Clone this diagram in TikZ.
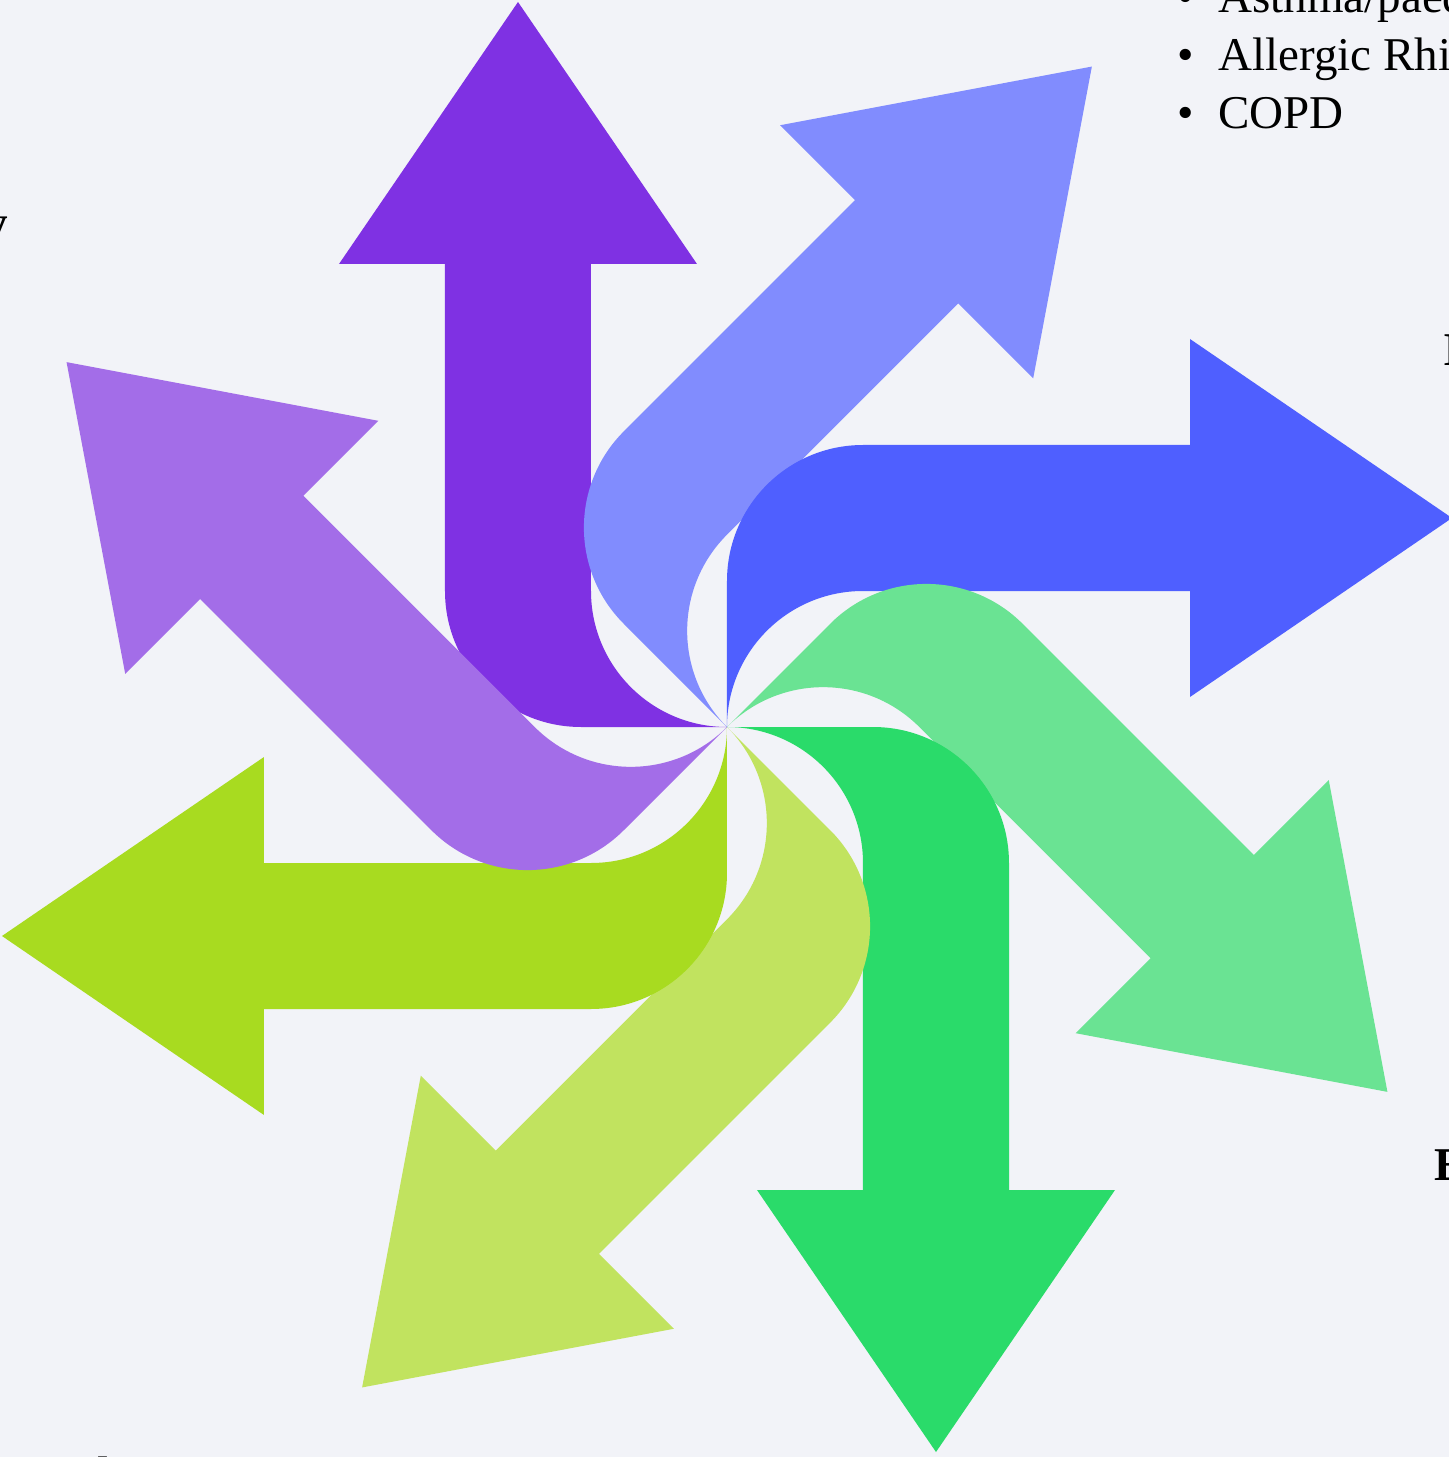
\documentclass[tikz,border=0pt]{standalone}
\usepackage{fontspec}
\setmainfont{Liberation Serif}

\definecolor{bgpale}{HTML}{F2F3F8}
\definecolor{violetA}{HTML}{7F31E3}
\definecolor{periA}{HTML}{818CFE}
\definecolor{blueA}{HTML}{4F5FFF}
\definecolor{mintA}{HTML}{6AE393}
\definecolor{greenA}{HTML}{2ADB6A}
\definecolor{limeB}{HTML}{C1E35F}
\definecolor{limeA}{HTML}{A8DB20}
\definecolor{lilacA}{HTML}{A36DE8}

\tikzset{
  petal/.pic={
    \fill[pic actions] (0,0) arc[start angle=270, end angle=180, radius=136]
      -- (-136,463) -- (-30,463) -- (-209,725) -- (-388,463) -- (-282,463)
      -- (-282,136) arc[start angle=180, end angle=270, radius=136] -- cycle;
  },
  listitem/.style={anchor=base west, inner sep=0pt, font=\fontsize{23.5}{28}\selectfont},
  cutword/.style={inner sep=0pt, font=\fontsize{23.5}{28}\selectfont\bfseries}
}

\begin{document}
\begin{tikzpicture}[x=0.5pt, y=0.5pt]
				\useasboundingbox (-727,-730) rectangle (722,727);
				\fill[bgpale] (-727,-730) rectangle (722,727);
				% pinwheel, one bent arrow every 45 degrees
				\pic[fill=violetA, rotate=0] at (0,0) {petal};
				\pic[fill=periA, rotate=-45] at (0,0) {petal};
				\pic[fill=blueA, rotate=-90] at (0,0) {petal};
				\pic[fill=mintA, rotate=-135] at (0,0) {petal};
				\pic[fill=greenA, rotate=-180] at (0,0) {petal};
				\pic[fill=limeB, rotate=-225] at (0,0) {petal};
				\pic[fill=limeA, rotate=-270] at (0,0) {petal};
				\pic[fill=lilacA, rotate=-315] at (0,0) {petal};
				% list, top right
				\node[listitem] (asthma) at (491,714) {\llap{\textbullet\hspace{12pt}}Asthma/paediatric asthma};
				\node[listitem] (rhinitis) at (491,656) {\llap{\textbullet\hspace{12pt}}Allergic Rhinitis};
				\node[listitem] (copd) at (491,598) {\llap{\textbullet\hspace{12pt}}COPD};
				% cut words at the edges
				\node[cutword, anchor=base east] (wordy) at (-719,488) {y};
				\node[cutword, anchor=base west] (wordi) at (716,361) {I};
				\node[cutword, anchor=base west] (worde) at (707,-453) {E};
				\node[cutword, anchor=base west] (wordl) at (-630,-762) {l};
			\end{tikzpicture}
\end{document}
